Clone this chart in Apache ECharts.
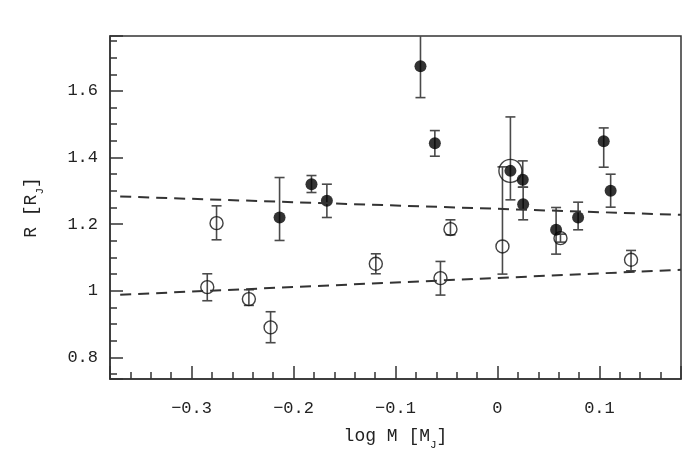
<!DOCTYPE html>
<html>
<head>
<meta charset="utf-8">
<script src="https://cdn.jsdelivr.net/npm/echarts@6/dist/echarts.min.js"></script>
<style>
  html, body { margin: 0; padding: 0; background: #fff; }
  #chart { width: 689px; height: 451px; }
</style>
</head>
<body>
<div id="chart"></div>
<script>
// filled points: x = log M, y = R, with lower / upper ends of the error bar
const filledX  = [-0.2137, -0.1824, -0.1673, -0.0755, -0.0614, 0.0127, 0.0248, 0.0252, 0.0575, 0.0791, 0.1042, 0.1110];
const filledY  = [1.220, 1.320, 1.270, 1.674, 1.443, 1.360, 1.333, 1.260, 1.183, 1.220, 1.449, 1.300];
const filledLo = [1.151, 1.295, 1.220, 1.580, 1.404, 1.273, 1.311, 1.213, 1.110, 1.183, 1.371, 1.251];
const filledHi = [1.340, 1.346, 1.320, 1.770, 1.481, 1.522, 1.390, 1.311, 1.250, 1.266, 1.489, 1.350];

// open points
const openX  = [-0.2846, -0.2755, -0.2438, -0.2225, -0.1193, -0.0559, -0.0461, 0.0049, 0.0618, 0.1310];
const openY  = [1.011, 1.203, 0.975, 0.890, 1.081, 1.038, 1.185, 1.133, 1.158, 1.093];
const openLo = [0.970, 1.153, 0.956, 0.844, 1.051, 0.987, 1.168, 1.050, 1.146, 1.060];
const openHi = [1.051, 1.255, 1.003, 0.937, 1.111, 1.088, 1.213, 1.372, 1.170, 1.121];

// the circled one
const ringX = [0.0127];
const ringY = [1.360];

// dashed fits (end points)
const fitX = [-0.37, 0.18];
const fitUpperY = [1.283, 1.228];
const fitLowerY = [0.988, 1.063];

const xMin = -0.38, xMax = 0.18;
const yMin = 0.735, yMax = 1.765;

const ink = '#333';
const font = 'Liberation Mono';

const zip = (xs, ys) => xs.map((x, i) => [x, ys[i]]);
const errData = (xs, ys, lo, hi) => xs.map((x, i) => [x, ys[i], lo[i], hi[i]]);

function errorBars(params, api) {
  const x = api.value(0);
  const top = api.coord([x, api.value(3)]);
  const bot = api.coord([x, api.value(2)]);
  const cap = 5;
  const style = { stroke: '#4a4a4a', lineWidth: 1.6, fill: null };
  return {
    type: 'group',
    children: [
      { type: 'line', shape: { x1: top[0], y1: top[1], x2: bot[0], y2: bot[1] }, style },
      { type: 'line', shape: { x1: top[0] - cap, y1: top[1], x2: top[0] + cap, y2: top[1] }, style },
      { type: 'line', shape: { x1: bot[0] - cap, y1: bot[1], x2: bot[0] + cap, y2: bot[1] }, style }
    ]
  };
}

const minus = v => (v < 0 ? '\u2212' : '') + Math.abs(v);

const nameRich = {
  a: { fontFamily: font, fontSize: 18, color: '#222' },
  s: { fontFamily: font, fontSize: 11, color: '#222', verticalAlign: 'bottom', padding: [0, 0, -6, 0] }
};

const chart = echarts.init(document.getElementById('chart'), null, { renderer: 'canvas' });
chart.setOption({
  animation: false,
  backgroundColor: '#fff',
  grid: { left: 110, right: 8, top: 36, bottom: 72, show: true, borderColor: ink, borderWidth: 1.5,
          backgroundColor: 'transparent', containLabel: false, outerBoundsMode: 'none' },
  xAxis: {
    type: 'value', min: xMin, max: xMax, splitNumber: 5,
    name: '{a|log M [M}{s|J}{a|]}', nameLocation: 'middle', nameGap: 48,
    nameTextStyle: { rich: nameRich },
    axisLine: { onZero: false, lineStyle: { color: ink, width: 1.5 } },
    axisTick: { inside: true, length: 13, lineStyle: { color: ink, width: 1.5 } },
    minorTick: { show: true, splitNumber: 5, length: 7, lineStyle: { color: ink, width: 1.5 } },
    axisLabel: { fontFamily: font, fontSize: 17, color: '#222', margin: 21, showMinLabel: false, showMaxLabel: false, formatter: minus },
    splitLine: { show: false }
  },
  yAxis: {
    type: 'value', min: yMin, max: yMax, splitNumber: 5,
    name: '{a|R [R}{s|J}{a|]}', nameLocation: 'middle', nameGap: 70, nameRotate: 90,
    nameTextStyle: { rich: nameRich },
    axisLine: { onZero: false, lineStyle: { color: ink, width: 1.5 } },
    axisTick: { inside: true, length: 13, lineStyle: { color: ink, width: 1.5 } },
    minorTick: { show: true, splitNumber: 4, length: 7, lineStyle: { color: ink, width: 1.5 } },
    axisLabel: { fontFamily: font, fontSize: 17, color: '#222', margin: 12, showMinLabel: false, showMaxLabel: false },
    splitLine: { show: false }
  },
  series: [
    { type: 'line', data: zip(fitX, fitUpperY), symbol: 'none', silent: true,
      lineStyle: { color: ink, width: 2, type: [11, 7] } },
    { type: 'line', data: zip(fitX, fitLowerY), symbol: 'none', silent: true,
      lineStyle: { color: ink, width: 2, type: [11, 7] } },
    { type: 'custom', renderItem: errorBars, clip: true, data: errData(filledX, filledY, filledLo, filledHi) },
    { type: 'custom', renderItem: errorBars, clip: true, data: errData(openX, openY, openLo, openHi) },
    { type: 'scatter', data: zip(openX, openY), symbol: 'circle', symbolSize: 13,
      itemStyle: { color: 'transparent', borderColor: '#111', borderWidth: 1.4 } },
    { type: 'scatter', data: zip(filledX, filledY), symbol: 'circle', symbolSize: 12,
      itemStyle: { color: '#000' } },
    { type: 'scatter', data: zip(ringX, ringY), symbol: 'circle', symbolSize: 23,
      itemStyle: { color: 'transparent', borderColor: '#111', borderWidth: 1.4 } }
  ]
});
</script>
</body>
</html>
